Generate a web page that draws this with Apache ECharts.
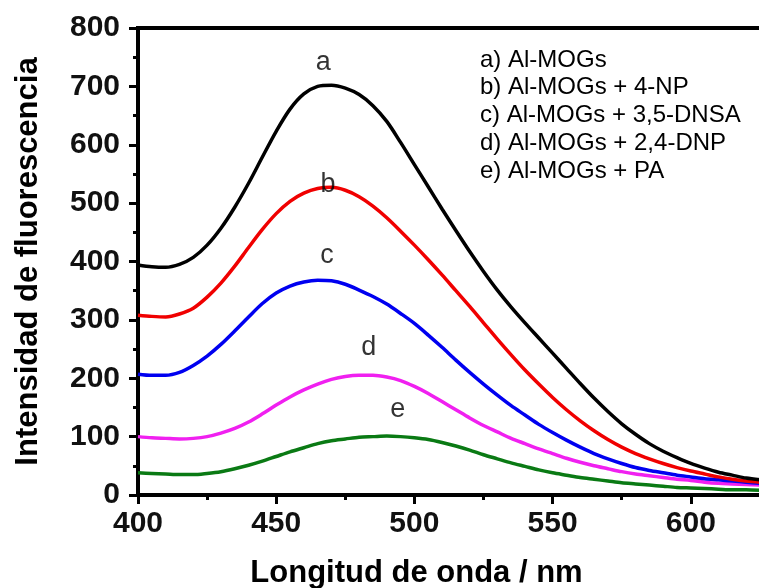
<!DOCTYPE html>
<html>
<head>
<meta charset="utf-8">
<script src="https://cdn.jsdelivr.net/npm/echarts@6/dist/echarts.min.js"></script>
<style>
  html, body { margin: 0; padding: 0; background: #fff; overflow: hidden; }
  /* plot runs past the right edge of the window, like the cropped original */
  #chart { width: 829px; height: 588px; }
</style>
</head>
<body>
<div id="chart"></div>
<script>
// wavelength (nm)
const wavelengths = [
  400, 405, 410, 415, 420, 425, 430, 435, 440, 445,
  450, 455, 460, 465, 470, 475, 480, 485, 490, 495,
  500, 505, 510, 515, 520, 525, 530, 535, 540, 545,
  550, 555, 560, 565, 570, 575, 580, 585, 590, 595,
  600, 605, 610, 615, 620, 625,
];

// fluorescence intensity, one array per curve
const curveA = [
  394, 391, 390, 395, 407, 428, 457, 493, 534, 579,
  623, 661, 687, 700, 702, 697, 686, 667, 640, 604,
  566, 528, 490, 453, 417, 383, 351, 322, 295, 269,
  243, 217, 191, 166, 143, 122, 104, 88, 75, 64,
  54, 46, 39, 34, 29, 26,
];
const curveB = [
  308, 306, 305, 310, 320, 339, 363, 392, 424, 455,
  482, 503, 517, 525, 527, 522, 511, 495, 475, 452,
  428, 403, 377, 350, 323, 295, 267, 240, 214, 190,
  167, 146, 127, 110, 95, 82, 71, 62, 54, 47,
  41, 36, 31, 27, 24, 22,
];
const curveC = [
  207, 205, 205, 210, 222, 238, 258, 281, 305, 328,
  346, 358, 365, 368, 367, 361, 351, 340, 327, 311,
  294, 274, 253, 231, 210, 190, 171, 153, 137, 121,
  107, 94, 82, 71, 62, 54, 47, 42, 38, 34,
  31, 28, 26, 24, 22, 20,
];
const curveD = [
  100, 98, 97, 96, 97, 100, 106, 114, 125, 139,
  154, 168, 180, 190, 198, 203, 205, 205, 202, 196,
  186, 174, 160, 146, 132, 119, 108, 97, 88, 79,
  71, 63, 56, 50, 45, 40, 36, 33, 30, 27,
  25, 22, 20, 19, 18, 17,
];
const curveE = [
  38, 37, 36, 35, 35, 37, 40, 45, 51, 58,
  66, 74, 81, 88, 93, 96, 99, 100, 101, 100,
  98, 95, 90, 84, 77, 69, 62, 55, 49, 43,
  38, 34, 30, 27, 24, 21, 19, 17, 15, 13,
  12, 11, 10, 9, 9, 8,
];

const curveColors = ['#000000', '#f00000', '#0000f0', '#f020f0', '#0a7a14'];

// letters placed above each peak
const peakLetters = ['a', 'b', 'c', 'd', 'e'];
const peakLetterX = [467, 468.7, 468.4, 483.5, 494];
const peakLetterY = [741, 531, 411, 252, 146];

const legendLines = [
  'a) Al-MOGs',
  'b) Al-MOGs + 4-NP',
  'c) Al-MOGs + 3,5-DNSA',
  'd) Al-MOGs + 2,4-DNP',
  'e) Al-MOGs + PA',
];

const yTicks = { min: 0, max: 800, interval: 100 };
const xTicks = { min: 400, max: 650, interval: 50 };

const font = 'Liberation Sans, Arial, sans-serif';
const chart = echarts.init(document.getElementById('chart'));

const curves = [curveA, curveB, curveC, curveD, curveE];
const lineSeries = curves.map((vals, i) => ({
  type: 'line',
  data: wavelengths.map((w, j) => [w, vals[j]]),
  smooth: 0.3,
  symbol: 'none',
  lineStyle: { color: curveColors[i], width: 3.5 },
  z: 5 - i,
}));

const axisCommon = {
  axisLine: { lineStyle: { color: '#000', width: 4 } },
  axisTick: { length: 9, lineStyle: { color: '#000', width: 3 } },
  minorTick: { show: true, splitNumber: 2, length: 5, lineStyle: { color: '#000', width: 3 } },
  splitLine: { show: false },
  axisLabel: {
    color: '#111',
    fontFamily: font,
    fontWeight: 'bold',
    fontSize: 30,
  },
  nameTextStyle: {
    color: '#000',
    fontFamily: font,
    fontWeight: 'bold',
    fontSize: 31,
  },
};

chart.setOption({
  animation: false,
  grid: {
    left: 138,
    top: 28,
    bottom: 93,
    right: 0,
    outerBoundsMode: 'none',
    show: true,
    borderColor: '#000',
    borderWidth: 4,
  },
  xAxis: {
    type: 'value',
    min: xTicks.min,
    max: xTicks.max,
    interval: xTicks.interval,
    name: 'Longitud de onda / nm',
    nameLocation: 'middle',
    nameGap: 63,
    ...axisCommon,
    axisLabel: { ...axisCommon.axisLabel, margin: 14 },
    nameTextStyle: { ...axisCommon.nameTextStyle, padding: [0, 0, 0, -134] },
  },
  yAxis: {
    type: 'value',
    min: yTicks.min,
    max: yTicks.max,
    interval: yTicks.interval,
    name: 'Intensidad de fluorescencia',
    nameLocation: 'middle',
    nameGap: 94,
    ...axisCommon,
    axisLabel: { ...axisCommon.axisLabel, margin: 18 },
  },
  series: [
    ...lineSeries,
    {
      type: 'scatter',
      symbolSize: 0,
      data: peakLetters.map((t, i) => ({ name: t, value: [peakLetterX[i], peakLetterY[i]] })),
      label: {
        show: true,
        position: 'inside',
        formatter: (p) => p.name,
        color: '#000',
        fontFamily: font,
        fontSize: 27,
      },
      z: 10,
    },
  ],
  graphic: legendLines.map((txt, i) => ({
    type: 'text',
    left: 480,
    top: 62 + i * 27.8 - 14,
    style: {
      text: txt,
      fill: '#000',
      font: '24px ' + font,
    },
  })),
});
</script>
</body>
</html>
